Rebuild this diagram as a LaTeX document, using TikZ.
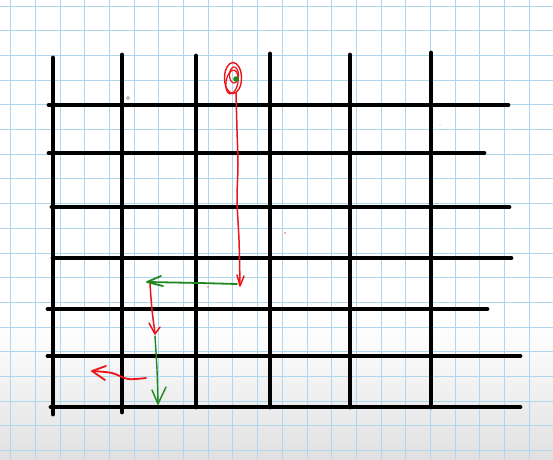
\documentclass[tikz,border=0pt]{standalone}
\usetikzlibrary{arrows.meta}
\definecolor{paperblue}{RGB}{172,215,236}
\definecolor{penred}{RGB}{235,20,25}
\definecolor{pengreen}{RGB}{30,135,30}
\begin{document}
\begin{tikzpicture}[x=1pt,y=-1pt,
  gridline/.style={black,line width=4.8pt,line cap=round},
  paper/.style={paperblue,line width=0.9pt},
  redpen/.style={penred,line width=1.5pt,line cap=round,line join=round},
  greenpen/.style={pengreen,line width=1.8pt,line cap=round,line join=round}]
\useasboundingbox (0,0) rectangle (553,459);
\fill[white] (0,0) rectangle (553,459);
\shade[top color=white,bottom color=black!12] (0,325) rectangle (553,459);
% graph paper
\foreach \x in {10.6,35.3,...,553} \draw[paper] (\x,0) -- (\x,459);
\foreach \y in {6,30.7,...,459} \draw[paper] (0,\y) -- (553,\y);
% black grid: verticals
\draw[gridline] (53,58) -- (53,414);
\draw[gridline] (122,55) -- (122,412);
\draw[gridline] (196,56) -- (196,407);
\draw[gridline] (270,54) -- (270,407);
\draw[gridline] (350,55) -- (350,407);
\draw[gridline] (431,53) -- (431,407);
% black grid: horizontals
\draw[gridline] (49,105) -- (508,105);
\draw[gridline] (49,153) -- (484,153);
\draw[gridline] (52,207) -- (509,207);
\draw[gridline] (53,258) -- (511,258);
\draw[gridline] (48,309) -- (487,309);
\draw[gridline] (48,356) -- (520,356);
\draw[gridline] (51,407) -- (520,407);
% red start scribble
\draw[penred,line width=1.4pt] (233,78) ellipse [x radius=8.5,y radius=15.5];
\draw[penred,line width=1.3pt,rotate around={-10:(232,82)}] (232,82) ellipse [x radius=6,y radius=12];
\draw[penred,line width=1.2pt] (234,75) ellipse [x radius=4.5,y radius=8];
\fill[pengreen] (236,79) circle (2.8);
% red path down
\draw[redpen] plot[smooth] coordinates {(236,93) (237,130) (238,165) (237,200) (239,240) (240,285)};
\draw[redpen] (237,275) -- (240,286) -- (244,276);
% green left
\draw[greenpen] (237,284) -- (200,283) -- (148,282);
\draw[greenpen] (161,276) -- (147,282) -- (163,286);
% red down
\draw[redpen] plot[smooth] coordinates {(150,284) (152,310) (155,333)};
\draw[redpen] (149,323) -- (155,334) -- (160,327);
% green down
\draw[greenpen,line width=1.4pt] plot[smooth] coordinates {(155,336) (157,370) (158,404)};
\draw[greenpen,line width=1.4pt] (152,390) -- (158,404) -- (166,387);
% red left
\draw[redpen,line width=1.8pt] plot[smooth] coordinates {(146,378) (128,379) (112,373) (93,371)};
\draw[redpen,line width=1.8pt] (106,366) -- (92,371) -- (105,380);
% specks
\draw[gray,line width=0.5pt] (128,98) circle (1.5);
\fill[penred!50] (440,125) circle (0.7);
\fill[penred!70] (285,233) circle (0.8);
\fill[penred!60] (208,287) circle (0.8);
\end{tikzpicture}
\end{document}
